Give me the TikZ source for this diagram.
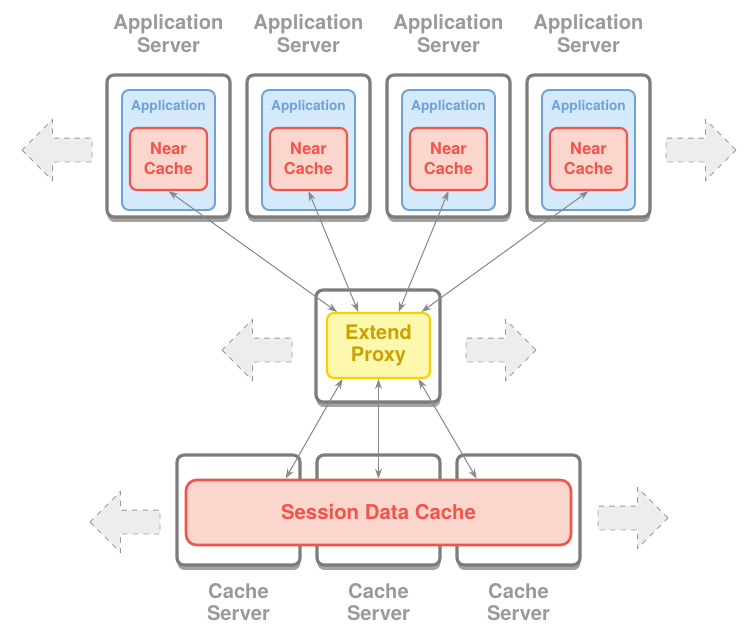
\documentclass[tikz,border=0pt]{standalone}
\usepackage{fontspec}
\setmainfont{TeX Gyre Heros}
\usetikzlibrary{arrows.meta,shapes.arrows,shadows}
\definecolor{labelgray}{HTML}{9A9A9A}
\definecolor{srvgray}{HTML}{7C7C7C}
\definecolor{appfill}{HTML}{D4E9FA}
\definecolor{appline}{HTML}{6FA3D8}
\definecolor{nearfill}{HTML}{FAD6CD}
\definecolor{nearline}{HTML}{F2544B}
\definecolor{proxyfill}{HTML}{FDF8AE}
\definecolor{proxyline}{HTML}{F6D200}
\definecolor{proxytext}{HTML}{C9A300}
\definecolor{fatfill}{HTML}{EDEDED}
\definecolor{linkgray}{HTML}{8A8A8A}

\begin{document}
\begin{tikzpicture}[
    x=0.02cm, y=-0.02cm,
    font=\bfseries,
    srvshadow/.style={drop shadow={shadow xshift=0.01cm, shadow yshift=-0.1cm, opacity=0.45, fill=black!80}},
    appsrv/.style={draw=srvgray, line width=1.8pt, rounded corners=4pt, fill=white, minimum width=2.46cm, minimum height=2.84cm, srvshadow},
    appbox/.style={draw=appline, line width=1.1pt, rounded corners=4pt, fill=appfill, minimum width=1.86cm, minimum height=2.4cm},
    nearcache/.style={draw=nearline, line width=1.2pt, rounded corners=4pt, fill=nearfill, minimum width=1.54cm, minimum height=1.24cm, align=center, text=nearline, font=\bfseries\fontsize{9.3}{11.4}\selectfont},
    apptext/.style={text=appline, font=\bfseries\fontsize{7.8}{9}\selectfont},
    proxybox/.style={draw=srvgray, line width=1.8pt, rounded corners=4pt, fill=white, minimum width=2.48cm, minimum height=2.24cm, srvshadow},
    proxycore/.style={draw=proxyline, line width=1.2pt, rounded corners=4pt, fill=proxyfill, minimum width=2.06cm, minimum height=1.3cm, align=center, text=proxytext, font=\bfseries\fontsize{11.4}{12.5}\selectfont},
    cachesrv/.style={draw=srvgray, line width=1.8pt, rounded corners=4pt, fill=white, minimum width=2.46cm, minimum height=2.2cm, srvshadow},
    sessioncache/.style={draw=nearline, line width=1.5pt, rounded corners=6pt, fill=nearfill, minimum width=7.7cm, minimum height=1.3cm, text=nearline, font=\bfseries\fontsize{11.6}{13}\selectfont},
    srvlabel/.style={text=labelgray, align=center, font=\bfseries\fontsize{11.5}{13}\selectfont},
    cachelabel/.style={text=labelgray, align=center, font=\bfseries\fontsize{11.5}{12.4}\selectfont},
    fatarrow/.style={single arrow, draw=gray!80, dashed, line width=0.5pt, fill=fatfill, inner xsep=0pt, inner ysep=0.23cm, minimum height=1.4cm, single arrow head extend=0.37cm},
    link/.style={{Stealth[length=2mm,width=1.4mm]}-{Stealth[length=2mm,width=1.4mm]}, draw=linkgray, line width=0.6pt}
]
\useasboundingbox (0,0) rectangle (745,626);

% application servers
\node[appsrv] (s1) at (168.5,146) {};
\node[appsrv] (s2) at (308.5,146) {};
\node[appsrv] (s3) at (448.5,146) {};
\node[appsrv] (s4) at (588.5,146) {};

\node[appbox, label={[apptext, anchor=north, yshift=-3pt]north:Application}] (a1) at (168.5,150) {};
\node[appbox, label={[apptext, anchor=north, yshift=-3pt]north:Application}] (a2) at (308.5,150) {};
\node[appbox, label={[apptext, anchor=north, yshift=-3pt]north:Application}] (a3) at (448.5,150) {};
\node[appbox, label={[apptext, anchor=north, yshift=-3pt]north:Application}] (a4) at (588.5,150) {};

\node[nearcache] (n1) at (168.5,159) {Near\\Cache};
\node[nearcache] (n2) at (308.5,159) {Near\\Cache};
\node[nearcache] (n3) at (448.5,159) {Near\\Cache};
\node[nearcache] (n4) at (588.5,159) {Near\\Cache};

\node[srvlabel] (l1) at (168.5,34) {Application\\Server};
\node[srvlabel] (l2) at (308.5,34) {Application\\Server};
\node[srvlabel] (l3) at (448.5,34) {Application\\Server};
\node[srvlabel] (l4) at (588.5,34) {Application\\Server};

\node[fatarrow, shape border rotate=180] (f1) at (63,150) {};
\node[fatarrow] (f2) at (695,150) {};

% extend proxy
\node[proxybox] (p) at (378,346) {};
\node[proxycore] (px) at (378.5,345.5) {Extend\\Proxy};

\node[fatarrow, shape border rotate=180] (f3) at (263,350) {};
\node[fatarrow] (f4) at (495,350) {};

% cache servers
\node[cachesrv] (c1) at (238.5,510) {};
\node[cachesrv] (c2) at (378.5,510) {};
\node[cachesrv] (c3) at (518.5,510) {};
\node[sessioncache] (sc) at (378.5,512.5) {Session Data Cache};

\node[cachelabel] (k1) at (238.5,602) {Cache\\Server};
\node[cachelabel] (k2) at (378.5,602) {Cache\\Server};
\node[cachelabel] (k3) at (518.5,602) {Cache\\Server};

\node[fatarrow, shape border rotate=180] (f5) at (131,522) {};
\node[fatarrow] (f6) at (627,518) {};

% links
\draw[link] (n1.south) -- (px.141);
\draw[link] (n2.south) -- (px.121);
\draw[link] (n3.south) -- (px.59);
\draw[link] (n4.south) -- (px.38);
\draw[link] (px.-137) -- (sc.160);
\draw[link] (px.270) -- (sc.90);
\draw[link] (px.-40) -- (sc.19);

\end{tikzpicture}
\end{document}
